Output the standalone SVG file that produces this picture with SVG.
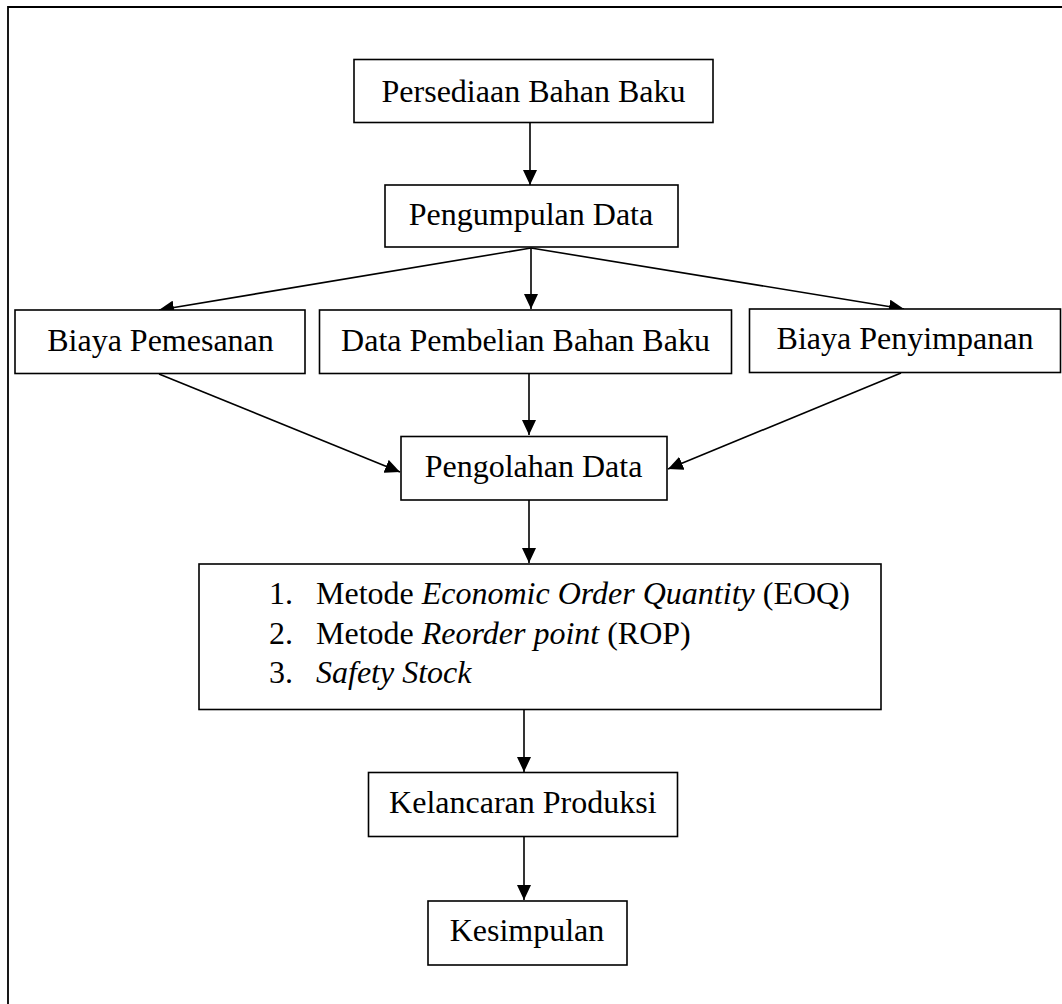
<svg xmlns="http://www.w3.org/2000/svg" width="1062" height="1004" viewBox="0 0 1062 1004">
<defs>
<marker id="ah" markerUnits="userSpaceOnUse" markerWidth="16" markerHeight="14" refX="15" refY="7" orient="auto">
<path d="M0,0 L15,7 L0,14 z" fill="#000"/>
</marker>
<style>
.box{fill:#fff;stroke:#000;stroke-width:1.6}
.t{font-family:"Liberation Serif","Times New Roman",serif;font-size:32px;fill:#000}
.c{text-anchor:middle}
.i{font-style:italic}
.edge{stroke:#000;stroke-width:1.6;fill:none;marker-end:url(#ah)}
</style>
</defs>
<rect width="1062" height="1004" fill="#fff"/>
<path d="M8,1004 V7 H1062" fill="none" stroke="#000" stroke-width="1.8"/>
<g id="connectors">
<line class="edge" x1="530" y1="123" x2="530" y2="185"/>
<line class="edge" x1="531" y1="248" x2="159" y2="310"/>
<line class="edge" x1="531" y1="248" x2="531" y2="309"/>
<line class="edge" x1="531" y1="248" x2="904" y2="309"/>
<line class="edge" x1="159" y1="374" x2="400" y2="472"/>
<line class="edge" x1="529" y1="374" x2="529" y2="435"/>
<line class="edge" x1="901" y1="373" x2="668" y2="469"/>
<line class="edge" x1="529" y1="500" x2="529" y2="563"/>
<line class="edge" x1="524" y1="710" x2="524" y2="772"/>
<line class="edge" x1="524" y1="837" x2="524" y2="900"/>
</g>
<g id="n1"><rect class="box" x="354" y="59.5" width="359" height="63"/><text class="t c" x="533.5" y="101.5">Persediaan Bahan Baku</text></g>
<g id="n2"><rect class="box" x="385" y="185" width="293" height="62"/><text class="t c" x="531" y="225">Pengumpulan Data</text></g>
<g id="n3"><rect class="box" x="15" y="310" width="290" height="63.5"/><text class="t c" x="160.5" y="350.5">Biaya Pemesanan</text></g>
<g id="n4"><rect class="box" x="319.5" y="310" width="412" height="63.5"/><text class="t c" x="525.5" y="350.5">Data Pembelian Bahan Baku</text></g>
<g id="n5"><rect class="box" x="749.5" y="309" width="311" height="63.5"/><text class="t c" x="905" y="349">Biaya Penyimpanan</text></g>
<g id="n6"><rect class="box" x="401" y="436.5" width="266" height="63.5"/><text class="t c" x="533.5" y="477">Pengolahan Data</text></g>
<g id="n7"><rect class="box" x="199" y="564" width="682" height="145.5"/>
<text class="t" x="269" y="604">1.</text><text class="t" x="316" y="604">Metode <tspan class="i">Economic Order Quantity</tspan> (EOQ)</text>
<text class="t" x="269" y="643.5">2.</text><text class="t" x="316" y="643.5">Metode <tspan class="i">Reorder point</tspan> (ROP)</text>
<text class="t" x="269" y="683">3.</text><text class="t i" x="316" y="683">Safety Stock</text>
</g>
<g id="n8"><rect class="box" x="368.5" y="772.5" width="309" height="64"/><text class="t c" x="522.8" y="813">Kelancaran Produksi</text></g>
<g id="n9"><rect class="box" x="428" y="901" width="199" height="64"/><text class="t c" x="527" y="940.5">Kesimpulan</text></g>
</svg>
